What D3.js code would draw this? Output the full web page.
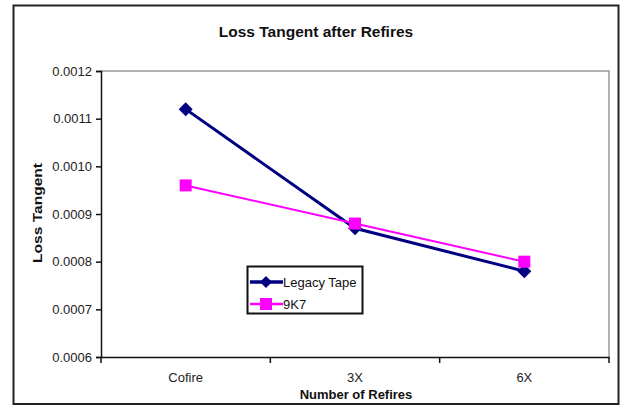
<!DOCTYPE html>
<html><head><meta charset="utf-8">
<script src="https://cdn.jsdelivr.net/npm/d3@7"></script>
<style>html,body{margin:0;padding:0;background:#fff;}svg{display:block;font-family:Arial,"Liberation Sans",sans-serif;}</style>
</head><body>
<script>
const categories = ["Cofire", "3X", "6X"];
const legacyTape = [0.00112, 0.00087, 0.00078];
const k9K7 = [0.00096, 0.00088, 0.0008];
const yTicks = [0.0006, 0.0007, 0.0008, 0.0009, 0.0010, 0.0011, 0.0012];
const seriesNames = ["Legacy Tape", "9K7"];

const W = 621, H = 406;
const svg = d3.select("body").append("svg").attr("width", W).attr("height", H);

// outer frame
svg.append("rect").attr("x", 13.5).attr("y", 5.5).attr("width", 605).attr("height", 398.5)
  .attr("fill", "#fff").attr("stroke", "#222").attr("stroke-width", 2);

const plot = {l: 101, t: 71, r: 609, b: 357};
const x = d3.scaleBand().domain(categories).range([plot.l, plot.r]);
const y = d3.scaleLinear().domain([0.0006, 0.0012]).range([plot.b, plot.t]);

// plot border (top/right grey)
svg.append("path").attr("d", `M${plot.l},${plot.t}H${plot.r}V${plot.b}`)
  .attr("fill", "none").attr("stroke", "#999").attr("stroke-width", 1.5);

// y axis
const yAxis = d3.axisLeft(y).tickValues(yTicks).tickSize(5).tickPadding(4)
  .tickFormat(d3.format(".4f"));
const gy = svg.append("g").attr("transform", `translate(${plot.l},0)`).call(yAxis);
gy.select(".domain").attr("stroke", "#111").attr("stroke-width", 1.5);
gy.selectAll(".tick line").attr("stroke", "#111").attr("stroke-width", 1.5);
gy.selectAll(".tick text").attr("font-size", 13).attr("fill", "#222")
  .attr("font-family", "Arial, 'Liberation Sans', sans-serif");

// x axis
const gx = svg.append("g").attr("transform", `translate(0,${plot.b})`)
  .call(d3.axisBottom(x).tickSize(0).tickPadding(16));
gx.select(".domain").attr("stroke", "#111").attr("stroke-width", 1.5);
gx.selectAll(".tick text").attr("font-size", 13).attr("fill", "#222")
  .attr("font-family", "Arial, 'Liberation Sans', sans-serif");
// x tick marks at band boundaries
const bounds = categories.map(c => x(c)).concat([x(categories[categories.length - 1]) + x.bandwidth()]);
svg.append("g").selectAll("line").data(bounds).join("line")
  .attr("x1", d => d).attr("x2", d => d).attr("y1", plot.b).attr("y2", plot.b + 6)
  .attr("stroke", "#111").attr("stroke-width", 1.5);

// titles
svg.append("text").attr("x", 316).attr("y", 37).attr("text-anchor", "middle")
  .attr("font-size", 15.5).attr("font-weight", "bold").attr("fill", "#111")
  .text("Loss Tangent after Refires");
svg.append("text").attr("transform", "translate(42,213) rotate(-90)").attr("text-anchor", "middle")
  .attr("font-size", 13).attr("font-weight", "bold").attr("fill", "#111")
  .attr("textLength", 100).attr("lengthAdjust", "spacingAndGlyphs")
  .text("Loss Tangent");
svg.append("text").attr("x", 356).attr("y", 398.5).attr("text-anchor", "middle")
  .attr("font-size", 13).attr("font-weight", "bold").attr("fill", "#111")
  .text("Number of Refires");

const cx = c => x(c) + x.bandwidth() / 2;
const line = d3.line().x(d => cx(d[0])).y(d => y(d[1]));
const diamond = (g, px, py, s) => g.append("path")
  .attr("d", `M${px},${py - s}L${px + s},${py}L${px},${py + s}L${px - s},${py}Z`);

// series
const legacyPts = categories.map((c, i) => [c, legacyTape[i]]);
const k9Pts = categories.map((c, i) => [c, k9K7[i]]);
svg.append("path").datum(legacyPts).attr("d", line).attr("fill", "none")
  .attr("stroke", "#000080").attr("stroke-width", 3);
svg.append("path").datum(k9Pts).attr("d", line).attr("fill", "none")
  .attr("stroke", "#FF00FF").attr("stroke-width", 2);
const gm = svg.append("g");
legacyPts.forEach(p => diamond(gm, cx(p[0]), y(p[1]), 7).attr("fill", "#000080"));
svg.append("g").selectAll("rect").data(k9Pts).join("rect")
  .attr("x", d => cx(d[0]) - 6).attr("y", d => y(d[1]) - 6)
  .attr("width", 12).attr("height", 12).attr("fill", "#FF00FF");

// legend
const lg = svg.append("g");
lg.append("rect").attr("x", 247.5).attr("y", 266.5).attr("width", 115).attr("height", 47)
  .attr("fill", "#fff").attr("stroke", "#111").attr("stroke-width", 2);
const colors = ["#000080", "#FF00FF"];
seriesNames.forEach((name, i) => {
  const ly = 282 + i * 22;
  lg.append("line").attr("x1", 250).attr("x2", 283).attr("y1", ly).attr("y2", ly)
    .attr("stroke", colors[i]).attr("stroke-width", i === 0 ? 3.5 : 2.5);
  if (i === 0) diamond(lg, 266, ly, 6).attr("fill", colors[i]);
  else lg.append("rect").attr("x", 260).attr("y", ly - 6).attr("width", 12).attr("height", 12).attr("fill", colors[i]);
  lg.append("text").attr("x", 283).attr("y", ly + 5).attr("font-size", 13).attr("fill", "#111").text(name);
});
</script>
</body></html>
